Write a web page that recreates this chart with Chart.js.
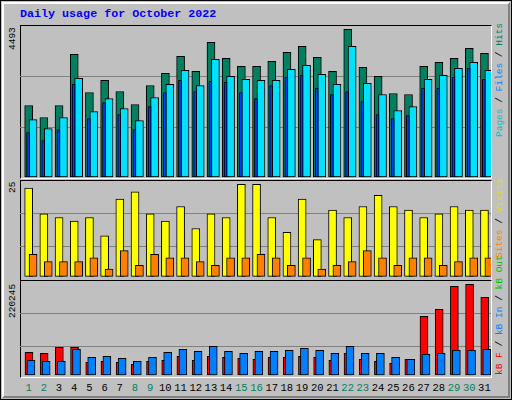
<!DOCTYPE html>
<html><head><meta charset="utf-8">
<script src="https://cdn.jsdelivr.net/npm/chart.js@4/dist/chart.umd.min.js"></script>
<style>
body{margin:0;background:#fff;}
#frame{position:absolute;left:0;top:0;width:510px;height:398px;background:#c0c0c0;border:1px solid #000;}
#bevel{position:absolute;left:1px;top:1px;width:504px;height:392px;border-top:2px solid #fff;border-left:2px solid #fff;border-right:2px solid #808080;border-bottom:2px solid #808080;}
.txt{position:absolute;font-family:"Liberation Mono","DejaVu Sans Mono",monospace;white-space:nowrap;}
.rot{transform-origin:0 0;transform:rotate(-90deg);font-size:9.5px;}
canvas{position:absolute;}
.box{position:absolute;border-top:1px solid #000;border-left:1px solid #000;border-right:1px solid #fff;border-bottom:1px solid #fff;}
</style></head><body>
<div id="frame"><div id="bevel"></div></div>
<div class="txt" style="left:20px;top:7px;font-size:11.7px;font-weight:bold;color:#0000ff;">Daily usage for October 2022</div>
<div class="box" style="left:20px;top:25px;width:470px;height:152px;"></div>
<div class="box" style="left:20px;top:180px;width:470px;height:99px;"></div>
<div class="box" style="left:20px;top:280px;width:470px;height:96px;"></div>
<canvas id="c1" width="471" height="153" style="left:20px;top:25px;width:471px;height:153px"></canvas>
<canvas id="c2" width="471" height="100" style="left:20px;top:180px;width:471px;height:100px"></canvas>
<canvas id="c3" width="471" height="97" style="left:20px;top:280px;width:471px;height:97px"></canvas>
<div class="txt rot" style="left:7px;top:50px;">4493</div>
<div class="txt rot" style="left:7px;top:193px;">25</div>
<div class="txt rot" style="left:7px;top:318px;">220245</div>
<div class="txt rot" style="left:494px;top:137px;"><span style="color:#00c0c0">Pages</span> / <span style="color:#0080ff">Files</span> / <span style="color:#008060">Hits</span></div>
<div class="txt rot" style="left:494px;top:258px;"><span style="color:#ff8000">Sites</span> / <span style="color:#e0e000">Visits</span></div>
<div class="txt rot" style="left:494px;top:375px;"><span style="color:#ff0000">kB F</span> / <span style="color:#0080ff">kB In</span> / <span style="color:#00c000">kB Out</span></div>
<div id="days"></div>
<script>
const days=[1,2,3,4,5,6,7,8,9,10,11,12,13,14,15,16,17,18,19,20,21,22,23,24,25,26,27,28,29,30,31];
const weekend=[1,2,8,9,15,16,22,23,29,30];
const hits=[2175,1809,2175,3731,2572,2938,2602,2206,2785,3151,3670,3212,4097,3609,3365,3365,3517,3792,3975,3639,3212,4493,3334,3060,2541,2511,3365,3487,3609,3914,3761];
const files=[1748,1474,1809,2999,1992,2389,2084,1718,2419,2816,3243,2785,3578,3060,2968,2938,2938,3273,3395,3121,2816,3975,2846,2511,2023,2145,2968,3090,3304,3487,3243];
const pages=[1352,1108,1443,2816,1779,2267,1901,1443,2145,2572,2938,2602,2907,2877,2572,2389,2785,3029,3090,2694,2511,2602,2297,1901,1779,1870,2694,2694,3029,3304,2968];
const visits=[24,17,16,15,16,11,21,23,17,15,19,13,17,16,25,25,16,12,21,10,18,16,19,22,19,18,16,17,19,18,18];
const sites=[6,4,4,4,5,2,7,3,6,5,5,4,3,5,5,6,5,3,5,2,3,4,7,5,3,5,5,3,4,5,5];
const kbF=[55061,52632,67207,67207,30770,33199,30770,25911,33199,35628,45344,35628,45344,42915,40486,38057,42915,42915,45344,42915,35628,52632,38057,33199,28340,38057,142511,159515,215387,220245,188666];
const kbIn=[35628,33199,33199,62348,42915,45344,40486,33199,42915,55061,62348,57490,69636,57490,52632,57490,57490,59919,64778,59919,52632,69636,52632,52632,42915,38057,50202,52632,59919,59919,62348];

const gridPlugin={id:'g',beforeDatasetsDraw(ch){const c=ch.ctx,y=ch.scales.y;c.save();c.strokeStyle='#808080';c.lineWidth=1;
 (ch.options.plugins.g.lines||[]).forEach(v=>{const p=Math.round(y.getPixelForValue(v))+0.5;c.beginPath();c.moveTo(0,p);c.lineTo(ch.width,p);c.stroke();});c.restore();}};
function ds(vals,off,color,w,order){return{data:vals.map((v,i)=>({x:i+off,y:v})),backgroundColor:color,borderColor:'#000',borderWidth:1,barThickness:w,grouped:false,order:order,borderSkipped:false};}
function mk(id,sets,min,max,lines){
 new Chart(document.getElementById(id),{type:'bar',data:{datasets:sets},plugins:[gridPlugin],
 options:{responsive:false,animation:false,layout:{padding:0},
 plugins:{legend:{display:false},tooltip:{enabled:false},g:{lines:lines}},
 scales:{x:{type:'linear',min:-0.5,max:30.5,offset:false,display:false},y:{min:min,max:max,display:false}}}});
}
mk('c1',[ds(hits,0.07,'#008060',8,3),ds(files,0.36,'#00e0ff',8,2),ds(pages,0.03,'#0040ff',3,1)],-30,4624,[1518,3066]);
mk('c2',[ds(visits,0.07,'#ffff00',8,2),ds(sites,0.36,'#ff8000',8,1)],-1,26.2,[8.15,17.1]);
mk('c3',[ds(kbF,0.09,'#ff0000',8,2),ds(kbIn,0.22,'#0080ff',8,1)],-4857,230700,[69690,149800]);
const dd=document.getElementById('days');
days.forEach((d,i)=>{const s=document.createElement('div');s.className='txt';s.textContent=d;
 s.style.cssText+=`left:${20+(i+0.5)*471/31+1}px;top:382px;font-size:10.5px;transform:translateX(-50%);color:${weekend.includes(d)?'#008060':'#000'}`;dd.appendChild(s);});
</script>
</body></html>
